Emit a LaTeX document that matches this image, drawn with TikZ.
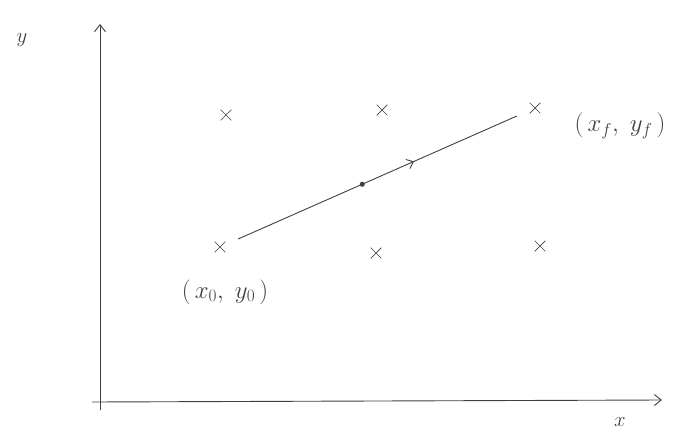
\documentclass[tikz,border=0pt]{standalone}
\usepackage{tikz}
\usetikzlibrary{shapes.misc,decorations.markings,arrows.meta}

\begin{document}
\begin{tikzpicture}[x=1pt, y=-1pt, line width=0.9pt, color=black!75,
    >={Straight Barb[length=7pt,width=11pt]},
    ax/.style={font=\fontsize{20}{24}\selectfont},
    pt/.style={cross out, draw, minimum size=10pt, inner sep=0pt, line width=0.7pt},
    lab/.style={font=\fontsize{23}{26}\selectfont},
    move/.style={postaction={decorate}, decoration={markings,
      mark=at position 0.45 with {\fill (0,0) circle (2.6pt);},
      mark=at position 0.62 with {\arrow{Straight Barb[length=6pt,width=10pt]}}}}]
    \useasboundingbox (0,0) rectangle (691,439);
    \coordinate (xend) at (662,400);
    \coordinate (yend) at (100,24);
    \draw[->] (92,402) -- (xend);
    \draw[->] (100,410) -- (yend);
    \node[ax] (ylab) at (22,40) {$y$};
    \node[ax] (xlab) at (620,422) {$x$};
    \node[pt] (a) at (226,115) {};
    \node[pt] (b) at (382,110) {};
    \node[pt] (pf) at (535,108) {};
    \node[pt] (p0) at (220,247) {};
    \node[pt] (c) at (376,253) {};
    \node[pt] (d) at (540,246) {};
    \node[lab] (l0) at (225,292) {$(\,x_0,\ y_0\,)$};
    \node[lab] (lf) at (620,126) {$(\,x_f,\ y_f\,)$};
    \draw[move, shorten <=14pt, shorten >=14pt] (p0) -- (pf);
  \end{tikzpicture}
\end{document}
